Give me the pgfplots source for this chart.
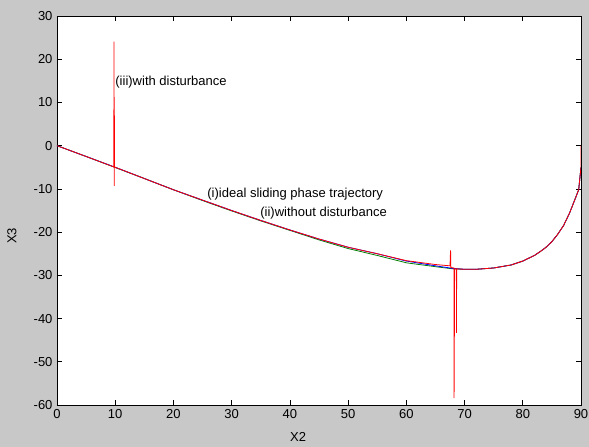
\documentclass[border=0pt]{standalone}
\usepackage{fontspec}
\setmainfont{Liberation Sans}
\usepackage{pgfplots}
\pgfplotsset{compat=1.18}
\usetikzlibrary{backgrounds}
\definecolor{figgray}{RGB}{200,200,200}
\definecolor{mgreen}{RGB}{0,128,0}

\pgfplotstableread{
x y
0 0
5 -2.5
10 -5.05
15 -7.6
20 -10.2
25 -12.7
30 -15.1
35 -17.4
40 -19.6
45 -21.8
50 -23.8
55 -25.4
60 -27.1
65 -28.0
68 -28.5
70 -28.6
72 -28.6
75 -28.3
78 -27.6
80 -26.7
82 -25.4
83 -24.5
84 -23.5
85 -22.2
86 -20.5
87 -18.5
88 -15.7
88.5 -14.0
89 -12.3
89.6 -10.2
90 -5.0
}\ideal

\pgfplotstableread{
x y
0 0
5 -2.5
10 -5.0
15 -7.6
20 -10.2
25 -12.6
30 -15.0
35 -17.3
40 -19.5
45 -21.6
50 -23.5
55 -25.0
60 -26.7
65 -27.8
68 -28.4
70 -28.6
72 -28.6
75 -28.3
78 -27.6
80 -26.7
82 -25.4
83 -24.5
84 -23.5
85 -22.2
86 -20.5
87 -18.5
88 -15.7
88.5 -14.0
89 -12.3
89.6 -10.2
90 -5.0
}\nodist

\pgfplotstableread{
x y
0 0
5 -2.5
9.75 -4.9
9.8 24.1
9.82 -9.3
9.85 7.2
9.88 -5.0
10 -5.0
15 -7.6
20 -10.2
25 -12.6
30 -15.0
35 -17.3
40 -19.5
45 -21.6
50 -23.5
55 -25.0
60 -26.6
65 -27.5
67.5 -27.8
67.6 -24.2
67.65 -28.2
68.2 -28.3
68.2 -58.4
68.3 -28.5
68.6 -28.5
68.6 -43.3
68.65 -28.5
70 -28.6
72 -28.6
75 -28.3
78 -27.6
80 -26.7
82 -25.4
83 -24.5
84 -23.5
85 -22.2
86 -20.5
87 -18.5
88 -15.7
88.5 -14.0
89 -12.3
89.6 -10.2
90 -5.0
90 0
}\withdist

\begin{document}
\fontsize{13bp}{15bp}\selectfont
\begin{tikzpicture}
\begin{axis}[
    scale only axis,
    width=524bp, height=389bp,
    xmin=0, xmax=90, ymin=-60, ymax=30,
    xtick={0,10,...,90},
    ytick={-60,-50,...,30},
    tick align=inside,
    major tick length=5bp,
    axis background/.style={fill=white},
    axis line style={black, line width=0.6pt},
    tick style={black, line width=0.6pt},
    /pgf/number format/assume math mode=true,
    ticklabel style={font=\fontsize{13bp}{15bp}\selectfont},
    xlabel={X2},
    ylabel={X3},
    label style={font=\fontsize{13bp}{15bp}\selectfont},
    xlabel style={at={(axis description cs:0.46,-0.082)}, anchor=center},
    ylabel style={at={(axis description cs:-0.086,0.435)}, anchor=center},
    clip=true,
]
\addplot[mgreen, line width=0.8pt] table[x=x,y=y] {\ideal};
\addplot[blue, line width=0.8pt] table[x=x,y=y] {\nodist};
\addplot[red, line width=0.8pt] table[x=x,y=y] {\withdist};
\node[anchor=west, inner sep=0pt] at (axis cs:10.0,14.8) {(iii)with disturbance};
\node[anchor=west, inner sep=0pt] at (axis cs:25.8,-11.1) {(i)ideal sliding phase trajectory};
\node[anchor=west, inner sep=0pt] at (axis cs:34.9,-15.5) {(ii)without disturbance};
\end{axis}
\begin{pgfonlayer}{background}
\fill[figgray] (-57bp,-42bp) rectangle (532bp,405bp);
\end{pgfonlayer}
\pgfresetboundingbox
\useasboundingbox (-57bp,-42bp) rectangle (532bp,405bp);
\end{tikzpicture}
\end{document}
